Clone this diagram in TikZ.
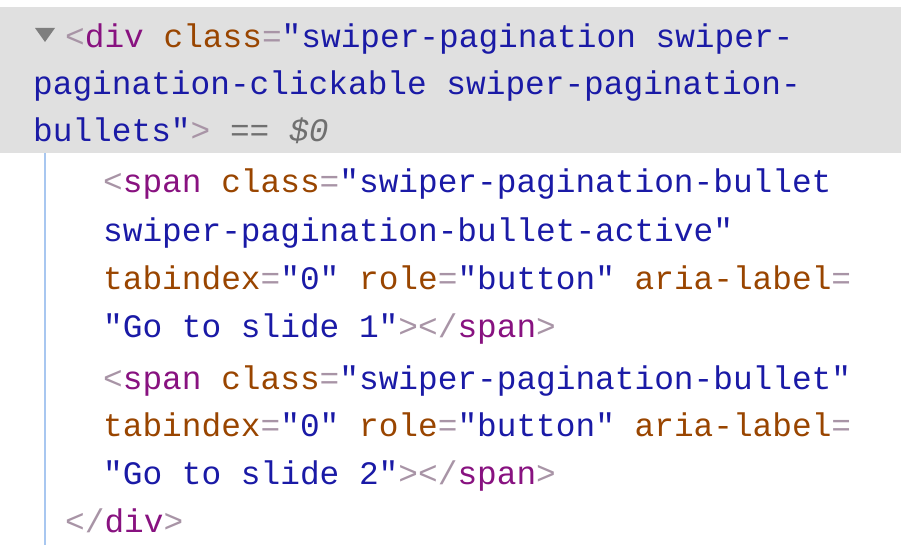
\documentclass[tikz,border=0pt]{standalone}
\usepackage{fontspec}
\setmonofont{Liberation Mono}
\definecolor{tagc}{HTML}{881280}
\definecolor{attc}{HTML}{994500}
\definecolor{valc}{HTML}{1A1AA6}
\definecolor{punc}{HTML}{A894A6}
\definecolor{gryc}{HTML}{707070}
\definecolor{bandc}{HTML}{E0E0E0}
\definecolor{guidec}{HTML}{A8C7F0}
\newcommand{\Tg}[1]{\textcolor{tagc}{#1}}
\newcommand{\At}[1]{\textcolor{attc}{#1}}
\newcommand{\Vl}[1]{\textcolor{valc}{#1}}
\newcommand{\Pu}[1]{\textcolor{punc}{#1}}
\begin{document}
\begin{tikzpicture}[x=1pt,y=-1pt,
  code/.style={anchor=base west,inner sep=0pt,font=\ttfamily\fontsize{32.8}{40}\selectfont}]
\useasboundingbox (0,0) rectangle (901,556);
\fill[bandc] (0,7) rectangle (901,153);
\fill[guidec] (44,153) rectangle (46,545);
\fill[gryc!90] (35,28) -- (55,28) -- (45,42) -- cycle;
\node[code] (l1) at (65,48) {\Pu{<}\Tg{div} \At{class}\Pu{=}\Vl{"swiper-pagination swiper-}};
\node[code] (l2) at (33,95) {\Vl{pagination-clickable swiper-pagination-}};
\node[code] (l3) at (33,142) {\Vl{bullets"}\Pu{>} \textcolor{gryc}{\itshape == \$0}};
\node[code] (l4) at (103,193) {\Pu{<}\Tg{span} \At{class}\Pu{=}\Vl{"swiper-pagination-bullet}};
\node[code] (l5) at (103,241) {\Vl{swiper-pagination-bullet-active"}};
\node[code] (l6) at (103,289) {\At{tabindex}\Pu{=}\Vl{"0"} \At{role}\Pu{=}\Vl{"button"} \At{aria-label}\Pu{=}};
\node[code] (l7) at (103,337) {\Vl{"Go to slide 1"}\Pu{></}\Tg{span}\Pu{>}};
\node[code] (l8) at (103,389) {\Pu{<}\Tg{span} \At{class}\Pu{=}\Vl{"swiper-pagination-bullet"}};
\node[code] (l9) at (103,436) {\At{tabindex}\Pu{=}\Vl{"0"} \At{role}\Pu{=}\Vl{"button"} \At{aria-label}\Pu{=}};
\node[code] (l10) at (103,484) {\Vl{"Go to slide 2"}\Pu{></}\Tg{span}\Pu{>}};
\node[code] (l11) at (65,532) {\Pu{</}\Tg{div}\Pu{>}};
\end{tikzpicture}
\end{document}
